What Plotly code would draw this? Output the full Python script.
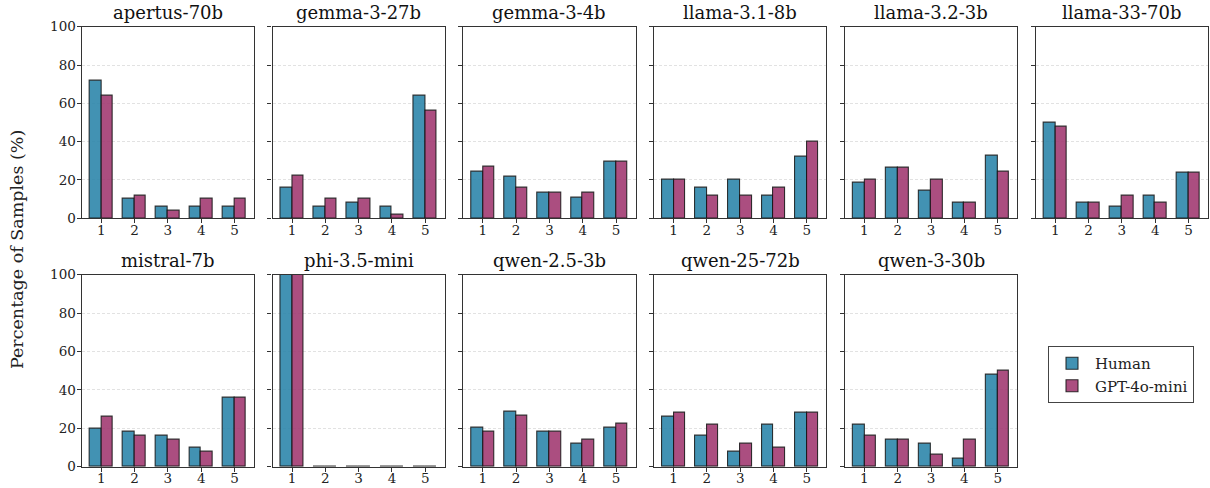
import plotly.graph_objects as go

models = ["apertus-70b", "gemma-3-27b", "gemma-3-4b", "llama-3.1-8b", "llama-3.2-3b", "llama-33-70b",
          "mistral-7b", "phi-3.5-mini", "qwen-2.5-3b", "qwen-25-72b", "qwen-3-30b"]
scores = [1, 2, 3, 4, 5]

human = [
    [72, 10, 6, 6, 6],
    [16, 6, 8, 6, 64],
    [24.3, 21.6, 13.5, 10.8, 29.7],
    [20, 16, 20, 12, 32],
    [18.4, 26.5, 14.3, 8.2, 32.7],
    [50, 8, 6, 12, 24],
    [20, 18, 16, 10, 36],
    [100, 0, 0, 0, 0],
    [20.4, 28.6, 18.4, 12.2, 20.4],
    [26, 16, 8, 22, 28],
    [22, 14, 12, 4, 48],
]
gpt = [
    [64, 12, 4, 10, 10],
    [22, 10, 10, 2, 56],
    [27.0, 16.2, 13.5, 13.5, 29.7],
    [20, 12, 12, 16, 40],
    [20.4, 26.5, 20.4, 8.2, 24.5],
    [48, 8, 12, 8, 24],
    [26, 16, 14, 8, 36],
    [100, 0, 0, 0, 0],
    [18.4, 26.5, 18.4, 14.3, 22.4],
    [28, 22, 12, 10, 28],
    [16, 14, 6, 14, 50],
]
yticks = [0, 20, 40, 60, 80, 100]
series_names = ["Human", "GPT-4o-mini"]

W, H = 1210, 488
FONT = "DejaVu Serif"
col_fill = ["rgba(46,134,171,0.9)", "rgba(162,59,114,0.9)"]
edge = "rgba(20,20,20,0.85)"
bw = 0.35

left0, pw, step = 81.7, 172.3, 190.8
rows_px = [(26.7, 218.3), (274.7, 466.7)]

fig = go.Figure()
layout = {}
annotations = []
for i, m in enumerate(models):
    r, c = divmod(i, 6)
    ax = "" if i == 0 else str(i + 1)
    x0 = left0 + c * step
    x1 = x0 + pw
    t, b = rows_px[r]
    xd = [x0 / W, x1 / W]
    yd = [1 - b / H, 1 - t / H]
    for s, (vals, off) in enumerate([(human[i], -bw), (gpt[i], 0.0)]):
        fig.add_trace(go.Bar(
            x=scores, y=vals, width=bw, offset=off,
            name=series_names[s], legendgroup=series_names[s], showlegend=(i == 0),
            marker=dict(color=col_fill[s], line=dict(color=edge, width=1.1)),
            xaxis="x" + ax, yaxis="y" + ax,
        ))
    layout["xaxis" + ax] = dict(
        domain=xd, anchor="y" + ax, range=[0.415, 5.585], automargin=False,
        tickvals=scores, ticktext=[str(v) for v in scores],
        ticks="outside", ticklen=4, tickcolor="#333", tickwidth=1,
        ticklabelstandoff=-5,
        showline=True, mirror=True, linecolor="#333", linewidth=1.2,
        showgrid=False, zeroline=False,
        tickfont=dict(family=FONT, size=13.5, color="#222"),
    )
    layout["yaxis" + ax] = dict(
        domain=yd, anchor="x" + ax, range=[0, 100], automargin=False,
        tickvals=yticks, showticklabels=(c == 0),
        ticks="outside", ticklen=4, tickcolor="#333", tickwidth=1,
        ticklabelstandoff=-2,
        showline=True, mirror=True, linecolor="#333", linewidth=1.2,
        showgrid=True, gridcolor="#e2e2e2", gridwidth=0.8, griddash="3px,2px",
        zeroline=False,
        tickfont=dict(family=FONT, size=13.5, color="#222"),
    )
    annotations.append(dict(
        text=m, x=(xd[0] + xd[1]) / 2, y=yd[1], xref="paper", yref="paper",
        xanchor="center", yanchor="bottom", yshift=2, showarrow=False,
        font=dict(family=FONT, size=18, color="#111"),
    ))

annotations.append(dict(
    text="Percentage of Samples (%)", x=17 / W, y=1 - 250 / H, xref="paper", yref="paper",
    xanchor="center", yanchor="middle", textangle=-90, showarrow=False,
    font=dict(family=FONT, size=17.5, color="#222"),
))

fig.update_layout(
    width=W, height=H, margin=dict(l=0, r=0, t=0, b=0, autoexpand=False),
    paper_bgcolor="white", plot_bgcolor="white",
    barmode="overlay", bargap=0,
    annotations=annotations,
    showlegend=True,
    legend=dict(
        x=1048 / W, y=1 - 346 / H, xanchor="left", yanchor="top",
        bordercolor="#444", borderwidth=1, bgcolor="white",
        font=dict(family=FONT, size=15, color="#222"),
        itemwidth=36, tracegroupgap=0,
    ),
    **layout,
)

fig.write_html("out.html", config={"displayModeBar": False},
               post_script="document.body.style.margin='0';document.body.style.padding='0';")
